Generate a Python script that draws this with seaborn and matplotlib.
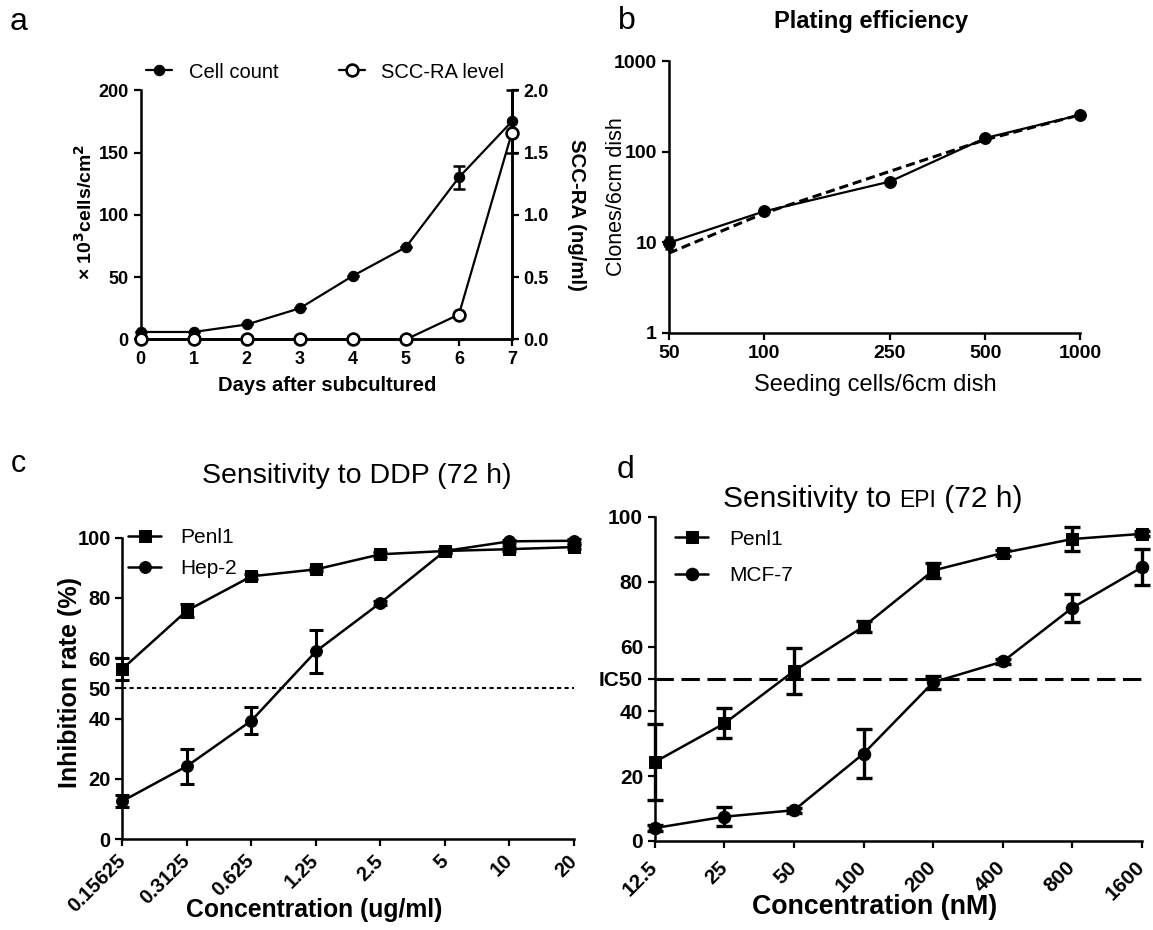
import numpy as np
import pandas as pd
import matplotlib
matplotlib.use('Agg')
import matplotlib.pyplot as plt
import seaborn as sns

sns.set_style('ticks')
plt.rcParams['font.family'] = ['Liberation Sans', 'DejaVu Sans']
plt.rcParams['axes.linewidth'] = 1.8
plt.rcParams['xtick.major.width'] = 1.6
plt.rcParams['ytick.major.width'] = 1.6
plt.rcParams['xtick.major.size'] = 5
plt.rcParams['ytick.major.size'] = 5
plt.rcParams['axes.edgecolor'] = 'black'
plt.rcParams['xtick.color'] = 'black'
plt.rcParams['ytick.color'] = 'black'
plt.rcParams['text.color'] = 'black'
plt.rcParams['axes.labelcolor'] = 'black'

# ---- data: panel a ----
days = [0, 1, 2, 3, 4, 5, 6, 7]
cell_count = [6, 6, 12, 25, 51, 74, 130, 175]
cell_err = [0, 0, 0, 0, 0, 0, 9, 25]
scc_ra = [0, 0, 0, 0, 0, 0, 0.2, 1.66]

# ---- data: panel b ----
seeding = [50, 100, 250, 500, 1000]
clones = [9.9, 22, 47, 142, 257]
clones_err = [1.5, 0, 0, 0, 0]
clones_fit = [7.6, 21, 61, 136, 257]

# ---- data: panel c ----
ddp_conc = [0.15625, 0.3125, 0.625, 1.25, 2.5, 5, 10, 20]
ddp_labels = ['0.15625', '0.3125', '0.625', '1.25', '2.5', '5', '10', '20']
penl1_ddp = [56.5, 75.8, 87.2, 89.5, 94.5, 95.6, 96.2, 96.9]
penl1_ddp_err = [3.6, 2.2, 0.8, 0.6, 0.8, 0.6, 0.6, 0.6]
hep2_ddp = [12.6, 24.2, 39.3, 62.3, 78.4, 95.6, 98.8, 99.0]
hep2_ddp_err = [2.0, 5.8, 4.5, 7.2, 0.6, 0.6, 0.6, 0.6]

# ---- data: panel d ----
epi_conc = [12.5, 25, 50, 100, 200, 400, 800, 1600]
epi_labels = ['12.5', '25', '50', '100', '200', '400', '800', '1600']
penl1_epi = [24.4, 36.3, 52.5, 66.2, 83.5, 88.9, 93.2, 94.8]
penl1_epi_err = [11.8, 4.6, 7.0, 1.8, 2.4, 0.8, 3.6, 0.8]
mcf7_epi = [4.0, 7.5, 9.5, 27.0, 49.0, 55.4, 72.0, 84.5]
mcf7_epi_err = [0.8, 3.0, 0.8, 7.6, 2.0, 0.8, 4.3, 5.6]


def bold_ticks(ax, size):
    ax.tick_params(labelsize=size)
    for t in ax.get_xticklabels() + ax.get_yticklabels():
        t.set_fontweight('bold')


def place_label(axis, x, y):
    axis.set_label_coords(x, y)
    axis.label.set_ha('center')
    axis.label.set_va('center')


fig = plt.figure(figsize=(11.53, 9.3), dpi=100)

# ================= panel a =================
ax_a = fig.add_axes([0.122, 0.635, 0.322, 0.268])
ax_a2 = ax_a.twinx()
df_a = pd.DataFrame({'day': days, 'cells': cell_count, 'scc': scc_ra})
sns.lineplot(data=df_a, x='day', y='cells', ax=ax_a, color='black', lw=1.6,
             marker='o', markersize=7.5, mec='black', clip_on=False, zorder=3,
             label='Cell count', legend=False)
ax_a.errorbar(days, cell_count, yerr=cell_err, fmt='none', ecolor='black',
              elinewidth=1.8, capsize=4, capthick=1.8, clip_on=False, zorder=3)
sns.lineplot(data=df_a, x='day', y='scc', ax=ax_a2, color='black', lw=1.6,
             marker='o', markersize=8.5, mfc='white', mec='black', mew=1.9,
             clip_on=False, zorder=3, label='SCC-RA level', legend=False)
ax_a.set_xlim(0, 7)
ax_a.set_ylim(0, 200)
ax_a2.set_ylim(0, 2.0)
ax_a.set_xticks(days)
ax_a.set_yticks([0, 50, 100, 150, 200])
ax_a2.set_yticks([0, 0.5, 1.0, 1.5, 2.0])
ax_a2.set_yticklabels(['0.0', '0.5', '1.0', '1.5', '2.0'])
for a in (ax_a, ax_a2):
    a.spines['top'].set_visible(False)
    bold_ticks(a, 13)
ax_a2.spines['left'].set_visible(False)
ax_a.set_xlabel('Days after subcultured', fontsize=14.5, fontweight='bold')
place_label(ax_a.xaxis, 0.502, -0.183)
ax_a.set_ylabel(r'× 10$^\mathbf{3}$cells/cm$^\mathbf{2}$', fontsize=14,
                fontweight='bold')
place_label(ax_a.yaxis, -0.150, 0.51)
ax_a2.set_ylabel('SCC-RA (ng/ml)', fontsize=14.7, fontweight='bold', rotation=270)
place_label(ax_a2.yaxis, 1.175, 0.5)
h1, l1 = ax_a.get_legend_handles_labels()
h2, l2 = ax_a2.get_legend_handles_labels()
ax_a2.legend(h1 + h2, l1 + l2, loc='center left', bbox_to_anchor=(0.015, 1.073),
             ncol=2, frameon=False, fontsize=14.5, handlelength=1.3,
             handletextpad=0.8, columnspacing=3.0, borderaxespad=0, borderpad=0)

# ================= panel b =================
ax_b = fig.add_axes([0.580, 0.642, 0.357, 0.292])
df_b = pd.DataFrame({'seed': seeding, 'clones': clones, 'fit': clones_fit})
sns.lineplot(data=df_b, x='seed', y='fit', ax=ax_b, color='black', lw=2.2,
             linestyle=(0, (3, 1.6)), clip_on=False, zorder=3)
sns.lineplot(data=df_b, x='seed', y='clones', ax=ax_b, color='black', lw=1.6,
             marker='o', markersize=8.5, mec='black', clip_on=False, zorder=4)
ax_b.errorbar(seeding, clones, yerr=clones_err, fmt='none', ecolor='black',
              elinewidth=1.8, capsize=3, capthick=1.8, clip_on=False, zorder=4)
ax_b.set_xscale('log')
ax_b.set_yscale('log')
ax_b.set_xlim(50, 1000)
ax_b.set_ylim(1, 1000)
ax_b.set_xticks(seeding)
ax_b.set_xticklabels([str(s) for s in seeding])
ax_b.set_yticks([1, 10, 100, 1000])
ax_b.set_yticklabels(['1', '10', '100', '1000'])
ax_b.minorticks_off()
sns.despine(ax=ax_b)
bold_ticks(ax_b, 14)
ax_b.set_xlabel('Seeding cells/6cm dish', fontsize=17)
place_label(ax_b.xaxis, 0.503, -0.19)
ax_b.set_ylabel('Clones/6cm dish', fontsize=15.5)
place_label(ax_b.yaxis, -0.126, 0.503)
fig.text(0.7554, 0.9767, 'Plating efficiency', fontsize=17, fontweight='bold',
         ha='center', va='center')

# ================= panel c =================
ax_c = fig.add_axes([0.1062, 0.0978, 0.3916, 0.324])
df_c = pd.DataFrame({'conc': ddp_conc, 'penl1': penl1_ddp, 'hep2': hep2_ddp})
ax_c.axhline(50, color='black', lw=1.5, linestyle=(0, (2, 1.6)), zorder=1)
sns.lineplot(data=df_c, x='conc', y='penl1', ax=ax_c, color='black', lw=1.8,
             marker='s', markersize=9, mec='black', clip_on=False, zorder=3,
             label='Penl1')
sns.lineplot(data=df_c, x='conc', y='hep2', ax=ax_c, color='black', lw=1.8,
             marker='o', markersize=8.5, mec='black', clip_on=False, zorder=3,
             label='Hep-2')
ax_c.errorbar(ddp_conc, penl1_ddp, yerr=penl1_ddp_err, fmt='none', ecolor='black',
              elinewidth=2.2, capsize=5, capthick=2.2, clip_on=False, zorder=3)
ax_c.errorbar(ddp_conc, hep2_ddp, yerr=hep2_ddp_err, fmt='none', ecolor='black',
              elinewidth=2.2, capsize=5, capthick=2.2, clip_on=False, zorder=3)
ax_c.set_xscale('log', base=2)
ax_c.set_xlim(ddp_conc[0], ddp_conc[-1])
ax_c.set_ylim(0, 100)
ax_c.set_xticks(ddp_conc)
ax_c.set_xticklabels(ddp_labels, rotation=45, ha='right', va='center',
                     rotation_mode='anchor')
ax_c.tick_params(axis='x', pad=8.5)
ax_c.minorticks_off()
ax_c.set_yticks([0, 20, 40, 50, 60, 80, 100])
sns.despine(ax=ax_c)
bold_ticks(ax_c, 14.5)
ax_c.set_xlabel('Concentration (ug/ml)', fontsize=17.8, fontweight='bold')
place_label(ax_c.xaxis, 0.424, -0.236)
ax_c.set_ylabel('Inhibition rate (%)', fontsize=18, fontweight='bold')
place_label(ax_c.yaxis, -0.116, 0.519)
ax_c.legend(loc='center left', bbox_to_anchor=(0.012, 0.949), frameon=False,
            fontsize=15, handlelength=1.6, handletextpad=0.9, labelspacing=0.6,
            borderaxespad=0, borderpad=0)
fig.text(0.3096, 0.4803, 'Sensitivity to DDP (72 h)', fontsize=20.5,
         ha='center', va='baseline')

# ================= panel d =================
ax_d = fig.add_axes([0.568, 0.0957, 0.4225, 0.3484])
df_d = pd.DataFrame({'conc': epi_conc, 'penl1': penl1_epi, 'mcf7': mcf7_epi})
ax_d.axhline(50, color='black', lw=2.2, linestyle=(0, (6, 2.5)), zorder=1)
sns.lineplot(data=df_d, x='conc', y='penl1', ax=ax_d, color='black', lw=1.8,
             marker='s', markersize=9, mec='black', clip_on=False, zorder=3,
             label='Penl1')
sns.lineplot(data=df_d, x='conc', y='mcf7', ax=ax_d, color='black', lw=1.8,
             marker='o', markersize=9, mec='black', clip_on=False, zorder=3,
             label='MCF-7')
ax_d.errorbar(epi_conc, penl1_epi, yerr=penl1_epi_err, fmt='none', ecolor='black',
              elinewidth=2.4, capsize=5.5, capthick=2.4, clip_on=False, zorder=3)
ax_d.errorbar(epi_conc, mcf7_epi, yerr=mcf7_epi_err, fmt='none', ecolor='black',
              elinewidth=2.4, capsize=5.5, capthick=2.4, clip_on=False, zorder=3)
ax_d.set_xscale('log', base=2)
ax_d.set_xlim(epi_conc[0], epi_conc[-1])
ax_d.set_ylim(0, 100)
ax_d.set_xticks(epi_conc)
ax_d.set_xticklabels(epi_labels, rotation=45, ha='right', va='center',
                     rotation_mode='anchor')
ax_d.tick_params(axis='x', pad=12)
ax_d.minorticks_off()
ax_d.set_yticks([0, 20, 40, 50, 60, 80, 100])
ax_d.set_yticklabels(['0', '20', '40', 'IC50', '60', '80', '100'])
sns.despine(ax=ax_d)
bold_ticks(ax_d, 15)
ax_d.set_xlabel('Concentration (nM)', fontsize=19.3, fontweight='bold')
place_label(ax_d.xaxis, 0.452, -0.204)
ax_d.set_ylabel('')
ax_d.legend(loc='center left', bbox_to_anchor=(0.041, 0.875), frameon=False,
            fontsize=15, handlelength=1.6, handletextpad=1.0, labelspacing=0.85,
            borderaxespad=0, borderpad=0)

# title with a smaller "EPI"
renderer = fig.canvas.get_renderer()
parts = [('Sensitivity to ', 21.5), ('EPI', 16.5), (' (72 h)', 21.5)]
texts = [fig.text(0, 0.455, s, fontsize=fs, ha='left', va='baseline') for s, fs in parts]
widths = [t.get_window_extent(renderer).width / fig.bbox.width for t in texts]
x0 = 0.757 - sum(widths) / 2
for t, w in zip(texts, widths):
    t.set_x(x0)
    x0 += w

# panel letters
fig.text(0.008, 0.9677, 'a', fontsize=23, va='baseline')
fig.text(0.536, 0.9688, 'b', fontsize=23, va='baseline')
fig.text(0.0095, 0.4925, 'c', fontsize=22, va='baseline')
fig.text(0.535, 0.486, 'd', fontsize=23, va='baseline')

fig.savefig('out.png', dpi=100, facecolor='white')
